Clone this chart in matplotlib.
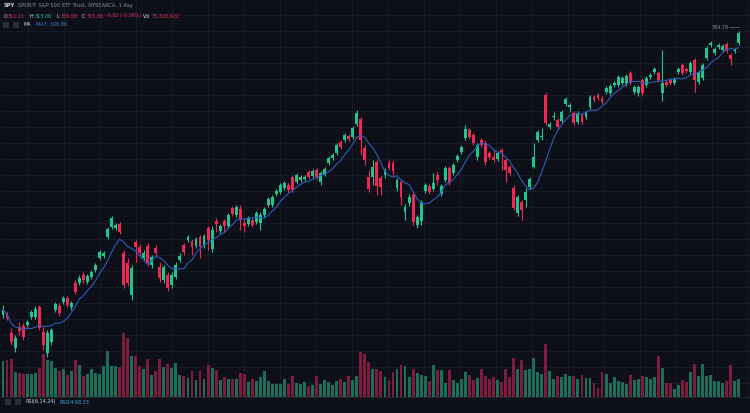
import numpy as np
import pandas as pd
import matplotlib
matplotlib.use('Agg')
import matplotlib.pyplot as plt

# SPY daily candles
opens = [300.5, 300.8, 295.1, 290.6, 296.9, 297.2, 297.5, 299.9, 299.9, 302.9,
         295.4, 289.1, 292.4, 302.0, 303.2, 304.4, 305.6, 302.9, 310.1, 310.1,
         312.5, 310.4, 311.9, 314.0, 317.6, 318.2, 323.9, 326.9, 326.6, 327.8,
         319.1, 316.1, 306.5, 322.4, 320.9, 317.6, 321.2, 315.5, 320.6, 314.9,
         311.0, 312.5, 309.5, 311.9, 317.0, 321.5, 323.0, 322.7, 321.2, 323.9,
         321.2, 326.6, 320.3, 328.7, 325.7, 328.7, 327.2, 332.6, 330.5, 332.3,
         328.1, 327.8, 329.0, 328.4, 328.1, 330.5, 333.5, 333.5, 336.8, 337.4,
         338.6, 339.5, 341.9, 340.4, 341.0, 341.3, 343.4, 342.2, 344.0, 340.4,
         342.8, 346.1, 347.6, 349.1, 352.4, 353.0, 354.2, 353.9, 357.8, 359.3,
         350.6, 341.9, 341.9, 346.4, 341.6, 342.5, 346.1, 346.1, 338.6, 340.4,
         331.4, 334.1, 336.5, 327.5, 328.7, 337.7, 339.2, 338.3, 342.5, 336.8,
         341.0, 344.6, 343.1, 347.0, 349.4, 353.6, 356.0, 354.5, 347.9, 353.0,
         352.1, 349.1, 347.9, 347.3, 350.0, 347.0, 344.9, 338.6, 331.1, 334.4,
         335.0, 338.9, 344.9, 353.0, 353.9, 366.5, 356.9, 359.9, 359.0, 358.7,
         363.8, 362.9, 361.1, 358.4, 360.5, 359.9, 362.9, 365.9, 366.5, 365.6,
         367.4, 367.1, 369.5, 369.5, 370.1, 369.8, 373.1, 367.4, 367.1, 371.0,
         369.5, 371.9, 373.4, 373.1, 367.1, 370.4, 371.0, 370.1, 373.4, 375.5,
         374.3, 373.4, 377.0, 370.4, 371.6, 377.6, 381.5, 379.1, 380.9, 380.0,
         381.8, 378.5, 379.7, 382.1]
highs = [303.5, 301.4, 296.6, 294.5, 298.4, 298.1, 299.0, 302.0, 303.2, 303.5,
         296.9, 296.0, 296.6, 304.4, 304.1, 306.2, 306.2, 304.7, 311.0, 312.5,
         313.4, 312.8, 314.0, 316.1, 320.0, 319.7, 326.9, 330.2, 328.1, 328.4,
         320.0, 317.6, 315.5, 323.0, 321.8, 320.0, 322.1, 318.5, 321.5, 316.4,
         315.5, 313.4, 313.4, 316.4, 319.1, 322.1, 324.5, 323.3, 323.9, 324.5,
         324.8, 327.2, 327.2, 329.6, 327.8, 329.3, 331.1, 333.2, 333.5, 333.5,
         329.6, 330.2, 329.6, 331.7, 331.4, 332.9, 335.9, 336.5, 338.3, 340.1,
         340.7, 340.1, 342.5, 343.1, 342.5, 342.5, 344.0, 344.3, 344.6, 343.7,
         344.9, 348.2, 349.1, 352.1, 353.0, 355.1, 354.8, 357.2, 362.0, 359.9,
         351.5, 344.0, 347.0, 347.0, 342.2, 344.6, 347.0, 347.0, 341.6, 341.0,
         333.8, 336.8, 337.1, 330.5, 335.0, 340.1, 339.8, 343.1, 343.4, 339.8,
         345.2, 345.2, 346.1, 348.8, 351.5, 357.5, 356.6, 355.1, 352.1, 353.6,
         352.7, 349.7, 350.0, 349.7, 350.6, 347.6, 345.5, 339.5, 336.5, 335.0,
         338.6, 341.9, 352.1, 356.0, 356.6, 367.1, 358.4, 361.4, 359.6, 362.0,
         365.9, 364.1, 361.7, 361.7, 361.1, 361.7, 366.5, 366.5, 367.1, 366.2,
         369.2, 369.8, 370.7, 372.5, 372.2, 372.8, 373.7, 369.5, 369.5, 371.6,
         372.2, 373.1, 374.9, 373.7, 380.0, 371.0, 371.6, 371.9, 374.9, 376.1,
         374.9, 376.7, 377.6, 374.0, 376.1, 381.2, 382.7, 380.9, 382.1, 381.8,
         382.4, 379.1, 380.6, 385.7]
lows = [299.6, 299.0, 291.5, 289.4, 294.5, 293.0, 296.9, 299.3, 299.3, 296.0,
        290.0, 287.9, 291.5, 301.4, 300.2, 303.8, 302.9, 302.0, 306.8, 309.5,
        310.1, 309.8, 311.3, 313.4, 317.0, 317.6, 323.3, 326.3, 326.0, 324.8,
        308.6, 309.2, 305.0, 316.4, 318.2, 317.0, 315.2, 314.6, 318.2, 310.4,
        310.1, 307.7, 308.6, 311.3, 316.4, 318.5, 322.4, 318.5, 320.6, 317.6,
        320.6, 320.0, 319.4, 325.4, 325.1, 325.4, 326.6, 330.2, 329.9, 326.0,
        325.4, 327.2, 326.9, 327.8, 326.0, 329.9, 332.9, 332.9, 336.2, 336.8,
        338.0, 337.4, 337.4, 339.8, 340.4, 340.7, 341.3, 341.6, 341.3, 339.5,
        342.2, 345.5, 347.0, 348.5, 350.3, 352.4, 352.7, 353.3, 357.2, 348.5,
        345.5, 337.4, 339.5, 336.5, 336.5, 341.6, 344.0, 342.5, 337.7, 333.5,
        329.0, 333.2, 327.5, 326.6, 327.5, 337.1, 336.8, 337.7, 339.5, 336.2,
        340.4, 339.5, 342.5, 346.4, 348.8, 353.0, 353.3, 351.5, 347.0, 350.9,
        345.5, 347.3, 346.4, 346.7, 344.0, 340.4, 342.5, 332.0, 330.2, 329.0,
        332.9, 338.3, 344.6, 352.4, 353.0, 357.5, 356.3, 359.0, 356.3, 358.1,
        363.2, 361.4, 357.5, 357.8, 357.8, 359.3, 362.3, 364.4, 365.0, 363.8,
        366.8, 366.5, 368.9, 368.9, 369.5, 369.2, 369.5, 366.8, 366.2, 366.2,
        368.9, 371.3, 372.8, 370.4, 364.7, 368.9, 369.5, 369.5, 372.8, 372.5,
        373.1, 372.8, 367.4, 369.8, 371.0, 377.0, 380.9, 378.5, 380.3, 379.4,
        379.1, 375.5, 379.1, 381.5]
closes = [302.0, 299.6, 292.4, 293.6, 295.7, 293.9, 298.4, 301.4, 302.3, 296.6,
          291.5, 295.1, 296.0, 303.8, 301.1, 305.6, 303.5, 304.1, 307.4, 311.6,
          311.0, 312.2, 313.4, 315.5, 319.4, 319.1, 326.3, 329.6, 327.5, 325.4,
          309.5, 310.1, 314.6, 320.9, 319.1, 319.1, 316.1, 317.9, 319.1, 311.6,
          314.9, 308.6, 312.5, 315.5, 318.2, 319.4, 323.9, 320.9, 323.3, 320.9,
          324.2, 323.0, 326.0, 327.8, 327.2, 327.2, 330.5, 330.8, 332.9, 329.0,
          327.2, 329.6, 327.5, 331.1, 330.5, 332.3, 335.3, 335.9, 337.7, 339.5,
          340.1, 338.0, 338.0, 342.5, 341.9, 341.9, 341.9, 343.7, 341.9, 343.1,
          344.3, 347.6, 348.5, 351.5, 350.9, 354.5, 353.3, 356.6, 361.1, 353.0,
          347.0, 338.3, 344.9, 339.2, 338.9, 343.7, 344.6, 343.7, 341.0, 335.9,
          332.9, 335.9, 328.4, 329.9, 334.4, 339.5, 337.4, 340.1, 341.0, 339.2,
          344.6, 340.1, 345.5, 348.2, 350.9, 356.3, 353.9, 352.1, 351.5, 351.5,
          346.4, 347.9, 347.0, 349.1, 349.4, 344.0, 343.1, 332.6, 335.9, 332.0,
          337.4, 341.3, 347.9, 355.4, 354.2, 358.1, 357.8, 360.2, 356.9, 361.4,
          365.3, 363.5, 358.1, 361.1, 358.4, 361.1, 365.9, 365.0, 365.6, 364.4,
          368.6, 369.2, 370.1, 371.9, 371.6, 372.2, 370.1, 368.9, 368.9, 367.1,
          371.6, 372.5, 374.3, 371.0, 370.1, 369.5, 370.1, 371.3, 374.3, 373.1,
          373.7, 376.1, 371.0, 373.4, 375.5, 380.6, 382.1, 380.3, 381.5, 381.2,
          379.7, 377.3, 380.0, 385.1]
# volume in millions of shares
volumes = [108, 111, 114, 75, 72, 69, 69, 69, 72, 87,
           129, 111, 108, 87, 78, 84, 66, 78, 111, 96,
           63, 69, 84, 72, 69, 93, 138, 93, 93, 90,
           192, 177, 123, 123, 93, 84, 114, 66, 78, 114,
           90, 99, 87, 102, 66, 63, 57, 78, 51, 78,
           54, 96, 87, 81, 51, 60, 54, 54, 54, 72,
           69, 45, 54, 48, 60, 78, 48, 39, 39, 39,
           54, 39, 63, 42, 39, 45, 33, 36, 63, 39,
           51, 45, 36, 48, 54, 45, 63, 51, 63, 135,
           129, 105, 84, 84, 78, 60, 51, 75, 84, 96,
           93, 60, 84, 72, 66, 63, 48, 96, 81, 81,
           42, 81, 51, 42, 54, 75, 66, 51, 57, 84,
           63, 54, 60, 51, 45, 84, 60, 117, 84, 111,
           81, 84, 117, 75, 69, 159, 78, 54, 63, 60,
           69, 63, 63, 54, 66, 57, 57, 42, 27, 75,
           69, 42, 60, 48, 45, 39, 66, 51, 54, 63,
           60, 54, 60, 123, 87, 42, 42, 24, 36, 51,
           45, 75, 99, 63, 99, 63, 66, 48, 48, 42,
           48, 96, 48, 54]

bg = '#0d1019'
grid_c = '#1a1e2a'
up = '#22c490'
down = '#ef2953'
up_vol = '#1c6e59'
down_vol = '#7d1c3d'

o = np.array(opens)
h = np.array(highs)
l = np.array(lows)
c = np.array(closes)
v = np.array(volumes)
n = len(c)
x = np.arange(n)
rising = c >= o
ma7 = pd.Series(c).rolling(7, min_periods=1).mean()

fig = plt.figure(figsize=(7.5, 4.13), dpi=100, facecolor=bg)
pos = [0, 16 / 413, 1, 397 / 413]
xlim = (-0.75, 185.8)
ylim = (275.9, 395.0)

# background + grid
axg = fig.add_axes(pos)
axg.set_facecolor(bg)
axg.set_xlim(xlim)
axg.set_ylim(ylim)
for gy in np.arange(390.5, 275, -4.8):
    axg.axhline(gy, color=grid_c, lw=0.6, zorder=0)
for gx in np.arange(6.2, 186, 8.96):
    axg.axvline(gx, color=grid_c, lw=0.6, zorder=0)

# volume
axv = fig.add_axes(pos, sharex=axg)
axv.patch.set_visible(False)
axv.set_ylim(0, 1191)
axv.bar(x, v, width=0.72, color=np.where(rising, up_vol, down_vol), linewidth=0)

# candles
ax = fig.add_axes(pos, sharex=axg)
ax.patch.set_visible(False)
ax.set_ylim(ylim)
cols = np.where(rising, up, down)
ax.vlines(x, l, h, colors=cols, lw=0.8, zorder=2)
body = np.maximum(np.abs(c - o), 0.3)
ax.bar(x, body, bottom=np.minimum(o, c), width=0.72, color=cols, linewidth=0, zorder=3)
ax.plot(x, ma7, color='#2a5db8', lw=0.8, zorder=4)

# highest price marker
ih = int(np.argmax(h))
ax.plot([ih - 2.3, ih], [h[ih] + 1.2, h[ih] + 1.2], color='#6b7080', lw=0.5)
ax.text(ih - 2.6, h[ih] + 1.2, '384.79', color='#8a8f9c', fontsize=3.5, ha='right', va='center')

for a in (axg, axv, ax):
    a.set_xlim(xlim)
    a.axis('off')

# separator to the RSI pane
fig.add_artist(plt.Line2D([0, 1], [16 / 413, 16 / 413], color='#262a36', lw=0.6))


def txt(px, py, s, color, size=3.5, **kw):
    fig.text(px / 750, 1 - py / 413, s, color=color, fontsize=size, va='center', **kw)


white = '#d1d4dc'
grey = '#8a8f9c'
txt(4, 5.5, 'SPY', white, size=3.7, fontweight='bold')
txt(18, 5.5, 'SPDR® S&P 500 ETF Trust, NYSEARCA, 1 day', grey, size=3.7)
txt(4, 16, 'O', white)
txt(8, 16, '311.11', down)
txt(30, 16, 'H', white)
txt(35, 16, '313.00', up)
txt(56, 16, 'L', white)
txt(61, 16, '309.08', down)
txt(82, 16, 'C', white)
txt(87, 16, '311.36', down)
txt(106, 16, '-0.82 (-0.26%)', down)
txt(143, 16, 'Vol', white)
txt(152, 16, '75,320,422', down)

for bx, by in [(3, 25), (13, 25), (5, 402), (15, 402)]:
    fig.add_artist(plt.Rectangle((bx / 750, 1 - (by + 3) / 413), 6 / 750, 6 / 413,
                                 facecolor='#2a2e39', edgecolor='none'))
txt(24, 25, 'MA', white)
txt(36, 25, 'MA7: 306.86', '#3d7bd9')
txt(25, 402, 'RSI(6,14,24)', white)
txt(59, 402, 'RSI14:68.33', '#3aa6d9')

fig.savefig('out.png', dpi=100, facecolor=bg)
